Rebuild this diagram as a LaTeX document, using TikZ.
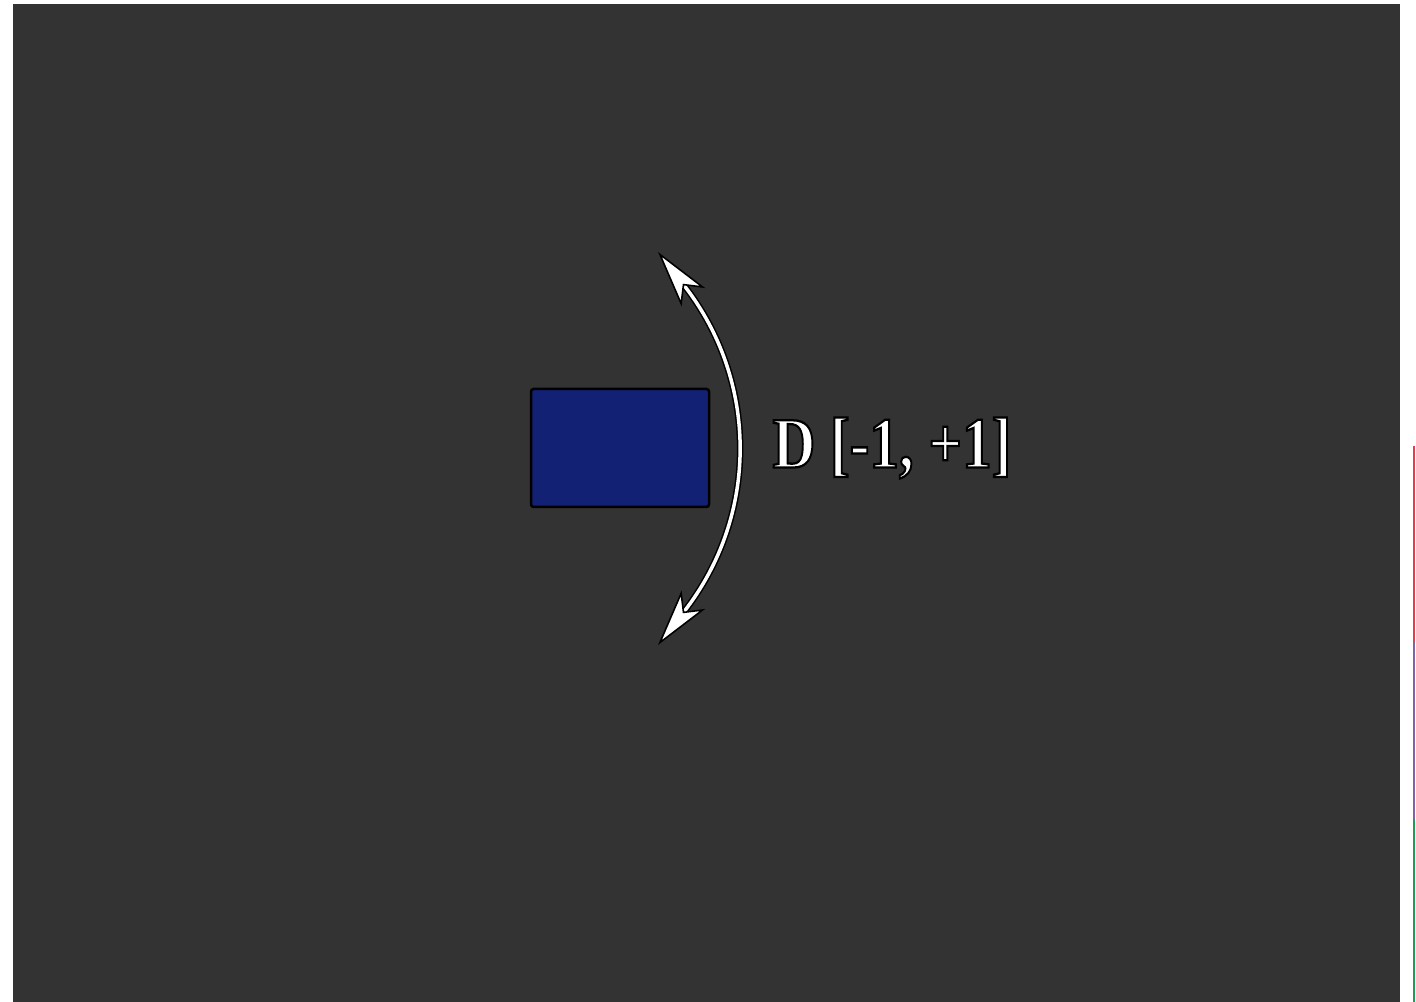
\documentclass[tikz,border=0pt]{standalone}
\usepackage{fontspec}
\setmainfont{Liberation Serif}
\definecolor{canvasgray}{RGB}{51,51,51}
\definecolor{deepblue}{RGB}{19,33,117}
\definecolor{markred}{RGB}{229,62,70}
\definecolor{markpurple}{RGB}{130,98,168}
\definecolor{markgreen}{RGB}{28,158,82}
\colorlet{canvas}{canvasgray}
\usepackage{tikz}
\usetikzlibrary{positioning, arrows.meta}
% white letters with a black rim
\newcommand{\rimtext}[1]{\special{pdf:literal direct q 2 Tr 1.3 w 0 G}#1\special{pdf:literal direct Q}}

\begin{document}
\begin{tikzpicture}[
    blockbox/.style={fill=deepblue, draw=black, line width=0.05cm, rounded corners=1.5pt,
      minimum width=3.56cm, minimum height=2.36cm, inner sep=0pt},
    rangelabel/.style={text=white, inner sep=0pt, font=\fontsize{41}{41}\selectfont\bfseries},
    swing/.style={{Stealth[length=1.15cm, width=0.6cm, inset=0.3cm, fill=white, line width=0.9pt]}-{Stealth[length=1.15cm, width=0.6cm, inset=0.3cm, fill=white, line width=0.9pt]},
      draw=black, double=white, double distance=0.07cm, line width=0.03cm},
  ]
    \fill[white] (0,0) rectangle (28.32,20.04);
    \useasboundingbox (0,0) rectangle (28.32,20.04);
    \fill[canvas] (0.26,0) rectangle (28.0,19.96);
    \fill[markred] (28.26,11.12) rectangle (28.30,7.22);
    \fill[markpurple] (28.26,7.22) rectangle (28.30,3.66);
    \fill[markgreen] (28.26,3.66) rectangle (28.30,0);
    \node[blockbox] (block) at (12.40,11.08) {};
    \node[rangelabel, right=1.24cm of block] (range) {\scalebox{0.82}[1]{\rimtext{D [-1, +1]}}};
    \coordinate (swingtop) at (13.16,15.00);
    \coordinate (swingbot) at (13.16,7.14);
    \draw[swing] (swingtop) to[out=-52, in=52, looseness=1.07] (swingbot);
  \end{tikzpicture}
\end{document}
